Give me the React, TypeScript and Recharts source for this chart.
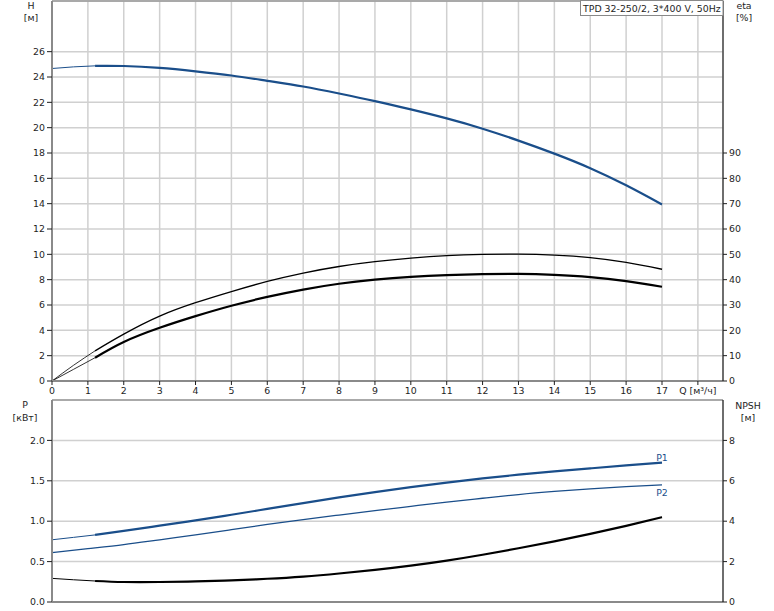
import { CartesianGrid, Line, LineChart, ReferenceLine, XAxis, YAxis } from "recharts";

// Pump curve sheet: Q-H + efficiencies on top, power + NPSH below.
// Thin segments below ~1.2 m³/h are outside the recommended range.

const Q_LOW = [0, 0.6, 1.2];
const Q_MAIN = [1.2, 2, 3, 4, 5, 6, 7, 8, 9, 10, 11, 12, 13, 14, 15, 16, 17];
const Q_ALL = [0, 1, 2, 3, 4, 5, 6, 7, 8, 9, 10, 11, 12, 13, 14, 15, 16, 17];

const H_LOW = [24.67, 24.8, 24.88];
const H_MAIN = [24.88, 24.87, 24.72, 24.45, 24.12, 23.7, 23.25, 22.7, 22.1, 21.44, 20.73, 19.92, 18.98, 17.95, 16.8, 15.45, 13.94];

const ETA_P_LOW = [0, 6.2, 11.9];
const ETA_P_MAIN = [11.9, 18.5, 25.6, 30.9, 35.3, 39.3, 42.6, 45.2, 47.1, 48.5, 49.5, 50.0, 50.1, 49.7, 48.7, 46.8, 44.1];
const ETA_T_LOW = [0, 4.6, 9.2];
const ETA_T_MAIN = [9.2, 15.4, 21, 25.6, 29.7, 33.2, 36.1, 38.4, 40.0, 41.1, 41.8, 42.2, 42.3, 41.9, 41.0, 39.4, 37.2];

const P1_LOW = [0.77, 0.8, 0.83];
const P1_MAIN = [0.83, 0.88, 0.945, 1.01, 1.08, 1.152, 1.224, 1.294, 1.36, 1.422, 1.478, 1.53, 1.576, 1.617, 1.654, 1.69, 1.725];
const P2_ALL = [0.61, 0.66, 0.71, 0.77, 0.83, 0.895, 0.96, 1.02, 1.076, 1.131, 1.184, 1.236, 1.284, 1.33, 1.368, 1.4, 1.428, 1.45];
const NPSH_LOW = [1.17, 1.1, 1.04];
const NPSH_MAIN = [1.04, 0.99, 0.99, 1.02, 1.07, 1.15, 1.26, 1.41, 1.59, 1.8, 2.05, 2.34, 2.66, 3.0, 3.37, 3.77, 4.2];

const X_TICKS = [0, 1, 2, 3, 4, 5, 6, 7, 8, 9, 10, 11, 12, 13, 14, 15, 16, 17, 18];
const X_UNIT = "Q [м³/ч]";
const H_TICKS = [0, 2, 4, 6, 8, 10, 12, 14, 16, 18, 20, 22, 24, 26, 28, 30];
const ETA_TICKS = [0, 10, 20, 30, 40, 50, 60, 70, 80, 90];
const P_TICKS = [0, 0.5, 1, 1.5, 2, 2.5];
const NPSH_TICKS = [0, 2, 4, 6, 8];

const TITLE = "TPD 32-250/2, 3*400 V, 50Hz";

const BLUE = "#1a4e8a";
const TEXT = "#1e1e1e";
const GRID = "#d0d0d0";
const FONT = "'DejaVu Sans', Verdana, sans-serif";
const FS = 9.4;

const pts = (xs: number[], ys: number[]) => xs.map((q, i) => ({ q, v: ys[i] }));

const leftTick = (maxLabel: number, digits: number) => (p: any) => {
  const v = p.payload.value;
  if (v > maxLabel) return <g />;
  return (
    <g>
      <line x1={p.x - 5} x2={p.x} y1={p.y} y2={p.y} stroke={TEXT} />
      <text x={p.x - 7} y={p.y} dy="0.35em" textAnchor="end" fontSize={FS} fill={TEXT} fontFamily={FONT}>
        {v.toFixed(digits)}
      </text>
    </g>
  );
};

const rightTick = (p: any) => (
  <g>
    <line x1={p.x} x2={p.x + 4} y1={p.y} y2={p.y} stroke={TEXT} />
    <text x={p.x + 6} y={p.y} dy="0.35em" textAnchor="start" fontSize={FS} fill={TEXT} fontFamily={FONT}>
      {p.payload.value}
    </text>
  </g>
);

const bottomTick = (p: any) => {
  const v = p.payload.value;
  const last = v === X_TICKS[X_TICKS.length - 1];
  return (
    <g>
      <line x1={p.x} x2={p.x} y1={p.y} y2={p.y + 4} stroke={TEXT} />
      <text x={p.x} y={p.y + 13} textAnchor="middle" fontSize={FS} fill={TEXT} fontFamily={FONT}>
        {last ? X_UNIT : v}
      </text>
    </g>
  );
};

const endLabel = (text: string, dy: number, n: number) => (p: any) =>
  p.index === n - 1 ? (
    <text x={p.x} y={p.y + dy} textAnchor="middle" fontSize={FS} fill={BLUE} fontFamily={FONT}>
      {text}
    </text>
  ) : (
    <g />
  );

const AXIS_GRAY = { stroke: "#8a8a8a", strokeWidth: 2 };
const AXIS_BLACK = { stroke: "#000", strokeWidth: 1 };

function TopChart() {
  return (
    <LineChart width={774} height={401} margin={{ top: 1, right: 0, bottom: 0, left: 0 }}>
      <CartesianGrid yAxisId="h" stroke={GRID} strokeWidth={1.5} />
      <XAxis
        type="number"
        dataKey="q"
        domain={[0, 18.7]}
        ticks={X_TICKS}
        allowDataOverflow
        height={20}
        tickSize={0}
        tickMargin={0}
        tick={bottomTick}
        axisLine={AXIS_GRAY}
      />
      <YAxis
        yAxisId="h"
        width={52}
        domain={[0, 30]}
        ticks={H_TICKS}
        tickSize={0}
        tickMargin={0}
        tick={leftTick(26, 0)}
        axisLine={AXIS_GRAY}
      />
      <YAxis
        yAxisId="eta"
        orientation="right"
        width={51}
        domain={[0, 150]}
        ticks={ETA_TICKS}
        tickSize={0}
        tickMargin={0}
        tick={rightTick}
        axisLine={AXIS_BLACK}
      />
      <ReferenceLine yAxisId="h" y={30} stroke="#999" strokeWidth={1.5} />
      <Line yAxisId="h" data={pts(Q_LOW, H_LOW)} dataKey="v" type="monotone" stroke={BLUE} strokeWidth={1} dot={false} activeDot={false} isAnimationActive={false} />
      <Line yAxisId="h" data={pts(Q_MAIN, H_MAIN)} dataKey="v" type="natural" stroke={BLUE} strokeWidth={2.2} dot={false} activeDot={false} isAnimationActive={false} />
      <Line yAxisId="eta" data={pts(Q_LOW, ETA_P_LOW)} dataKey="v" type="monotone" stroke="#000" strokeWidth={0.8} dot={false} activeDot={false} isAnimationActive={false} />
      <Line yAxisId="eta" data={pts(Q_MAIN, ETA_P_MAIN)} dataKey="v" type="natural" stroke="#000" strokeWidth={1.3} dot={false} activeDot={false} isAnimationActive={false} />
      <Line yAxisId="eta" data={pts(Q_LOW, ETA_T_LOW)} dataKey="v" type="monotone" stroke="#000" strokeWidth={0.8} dot={false} activeDot={false} isAnimationActive={false} />
      <Line yAxisId="eta" data={pts(Q_MAIN, ETA_T_MAIN)} dataKey="v" type="natural" stroke="#000" strokeWidth={2.2} dot={false} activeDot={false} isAnimationActive={false} />
    </LineChart>
  );
}

function BottomChart() {
  return (
    <LineChart width={774} height={212} margin={{ top: 1, right: 0, bottom: 0, left: 0 }}>
      <CartesianGrid yAxisId="p" stroke={GRID} strokeWidth={1.5} />
      <XAxis
        type="number"
        dataKey="q"
        domain={[0, 18.7]}
        ticks={X_TICKS}
        allowDataOverflow
        height={9}
        tick={false}
        tickLine={false}
        axisLine={AXIS_GRAY}
      />
      <YAxis
        yAxisId="p"
        width={52}
        domain={[0, 2.5]}
        ticks={P_TICKS}
        tickSize={0}
        tickMargin={0}
        tick={leftTick(2, 1)}
        axisLine={AXIS_GRAY}
      />
      <YAxis
        yAxisId="npsh"
        orientation="right"
        width={51}
        domain={[0, 10]}
        ticks={NPSH_TICKS}
        tickSize={0}
        tickMargin={0}
        tick={rightTick}
        axisLine={AXIS_BLACK}
      />
      <ReferenceLine yAxisId="p" y={2.5} stroke="#aaa" strokeWidth={2} />
      <Line yAxisId="p" data={pts(Q_LOW, P1_LOW)} dataKey="v" type="monotone" stroke={BLUE} strokeWidth={1} dot={false} activeDot={false} isAnimationActive={false} />
      <Line yAxisId="p" data={pts(Q_MAIN, P1_MAIN)} dataKey="v" type="natural" stroke={BLUE} strokeWidth={2.2} dot={false} activeDot={false} isAnimationActive={false} label={endLabel("P1", -2, Q_MAIN.length)} />
      <Line yAxisId="p" data={pts(Q_ALL, P2_ALL)} dataKey="v" type="natural" stroke={BLUE} strokeWidth={1.3} dot={false} activeDot={false} isAnimationActive={false} label={endLabel("P2", 11, Q_ALL.length)} />
      <Line yAxisId="npsh" data={pts(Q_LOW, NPSH_LOW)} dataKey="v" type="monotone" stroke="#000" strokeWidth={1} dot={false} activeDot={false} isAnimationActive={false} />
      <Line yAxisId="npsh" data={pts(Q_MAIN, NPSH_MAIN)} dataKey="v" type="natural" stroke="#000" strokeWidth={2.2} dot={false} activeDot={false} isAnimationActive={false} />
    </LineChart>
  );
}

export default function App() {
  const t = { fontSize: FS, fill: TEXT, fontFamily: FONT, textAnchor: "middle" as const };
  return (
    <div style={{ position: "absolute", left: 0, top: 0, width: 774, height: 611, background: "#fff" }}>
      <div style={{ position: "absolute", left: 0, top: 0 }}>
        <TopChart />
      </div>
      <div style={{ position: "absolute", left: 0, top: 399 }}>
        <BottomChart />
      </div>
      <svg width={774} height={611} style={{ position: "absolute", left: 0, top: 0, pointerEvents: "none" }}>
        <text x={31} y={9} {...t}>H</text>
        <text x={31} y={21} {...t}>[м]</text>
        <text x={744} y={9} {...t}>eta</text>
        <text x={744} y={21} {...t}>[%]</text>
        <text x={25} y={408} {...t}>P</text>
        <text x={25} y={421} {...t}>[кВт]</text>
        <text x={748} y={409} {...t}>NPSH</text>
        <text x={748} y={421} {...t}>[м]</text>
        <rect x={580.5} y={0.5} width={142.5} height={15} fill="#fff" stroke="#888" />
        <text x={583} y={11.5} fontSize={FS} fill={TEXT} fontFamily={FONT}>{TITLE}</text>
      </svg>
    </div>
  );
}
